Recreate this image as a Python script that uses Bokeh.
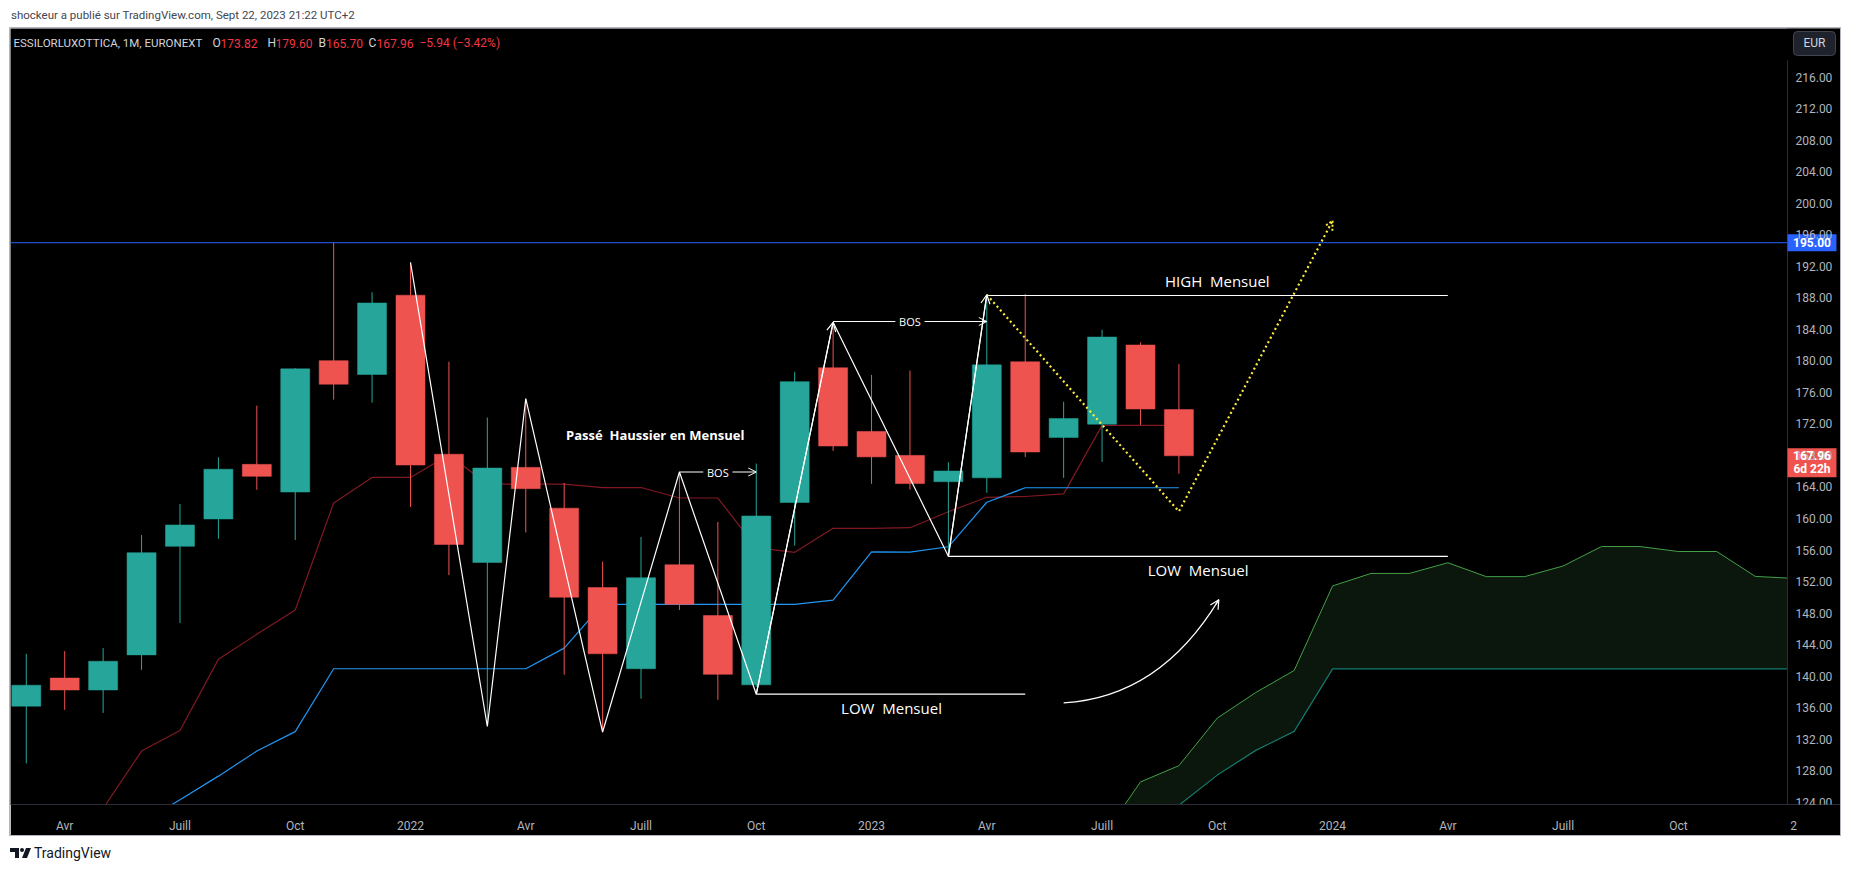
from bokeh.plotting import figure
from bokeh.models import (ColumnDataSource, FixedTicker, Label, Arrow, OpenHead, Div, Range1d)
from bokeh.layouts import column
from bokeh.embed import file_html
from bokeh.resources import INLINE

# ---------------- data ----------------
candle_months = ["2021-03", "2021-04", "2021-05", "2021-06", "2021-07", "2021-08", "2021-09",
                 "2021-10", "2021-11", "2021-12", "2022-01", "2022-02", "2022-03", "2022-04",
                 "2022-05", "2022-06", "2022-07", "2022-08", "2022-09", "2022-10", "2022-11",
                 "2022-12", "2023-01", "2023-02", "2023-03", "2023-04", "2023-05", "2023-06",
                 "2023-07", "2023-08", "2023-09"]
opens = [136.18, 139.75, 138.23, 142.69, 156.47, 159.94, 166.87, 163.36, 180.03, 178.27,
         188.34, 168.16, 154.42, 166.49, 161.31, 151.24, 140.93, 154.14, 147.68, 138.89,
         162.03, 179.13, 171.05, 168.01, 164.67, 165.16, 179.89, 170.28, 171.97, 182.02, 173.82]
highs = [142.83, 143.17, 143.55, 157.89, 161.84, 167.77, 174.33, 179.08, 195.00, 188.72,
         192.50, 179.89, 172.81, 175.23, 164.50, 154.52, 157.66, 165.87, 159.56, 166.97,
         178.61, 184.64, 178.22, 178.78, 167.14, 188.39, 188.49, 174.82, 183.95, 182.35, 179.60]
lows = [128.91, 135.71, 135.33, 140.79, 146.73, 157.42, 163.64, 157.27, 175.09, 174.71,
        161.46, 152.81, 133.80, 158.23, 140.17, 132.86, 137.13, 148.39, 136.99, 138.60,
        156.56, 168.58, 164.40, 163.66, 155.16, 163.27, 167.81, 165.16, 167.18, 171.87, 165.70]
closes = [138.84, 138.23, 141.88, 155.66, 159.18, 166.25, 165.35, 178.99, 177.04, 187.35,
          166.78, 156.70, 166.40, 163.78, 150.01, 142.83, 152.48, 149.10, 140.22, 160.32,
          177.37, 169.20, 167.82, 164.43, 166.03, 179.50, 168.44, 172.69, 183.03, 173.90, 167.96]

# Ichimoku base line (dark red) and conversion line (blue), same months as candles
base_line = [116.0, 119.5, 123.2, 130.48, 133.09, 142.12, 145.30, 148.39, 161.98, 165.21,
             165.21, 168.10, 164.35, 164.35, 164.35, 163.93, 163.93, 162.60, 162.60, 156.30,
             155.71, 158.75, 158.75, 158.83, 160.86, 162.69, 162.79, 163.13, 171.82, 171.82, 171.82]
conv_line = [112.0, 115.0, 118.0, 121.4, 124.3, 127.30, 130.48, 132.95, 140.93, 140.93,
             140.93, 140.93, 140.93, 140.93, 143.55, 149.10, 149.10, 149.10, 149.10, 149.10,
             149.10, 149.63, 155.76, 155.74, 156.41, 162.06, 163.90, 163.90, 163.90, 163.90, 163.90]

# Ichimoku cloud (leading spans)
cloud_months = ["2023-07", "2023-08", "2023-09", "2023-10", "2023-11", "2023-12", "2024-01",
                "2024-02", "2024-03", "2024-04", "2024-05", "2024-06", "2024-07", "2024-08",
                "2024-09", "2024-10", "2024-11", "2024-12", "2025-01"]
span_a = [119.5, 126.56, 128.63, 134.67, 137.91, 140.71, 151.44, 153.03, 153.03, 154.38,
          152.62, 152.62, 153.97, 156.44, 156.44, 155.81, 155.81, 152.65, 152.40]
span_b = [113.5, 118.0, 123.6, 127.43, 130.57, 132.98, 140.91, 140.91, 140.91, 140.91,
          140.91, 140.91, 140.91, 140.91, 140.91, 140.91, 140.91, 140.91, 140.91]

# axes
price_ticks = [124, 128, 132, 136, 140, 144, 148, 152, 156, 160, 164, 168, 172, 176, 180,
               184, 188, 192, 196, 200, 204, 208, 212, 216]
time_tick_months = ["2021-04", "2021-07", "2021-10", "2022-01", "2022-04", "2022-07", "2022-10",
                    "2023-01", "2023-04", "2023-07", "2023-10", "2024-01", "2024-04", "2024-07",
                    "2024-10", "2025-01"]
time_tick_labels = ["Avr", "Juill", "Oct", "2022", "Avr", "Juill", "Oct", "2023", "Avr", "Juill",
                    "Oct", "2024", "Avr", "Juill", "Oct", "2"]

# drawings
resistance = 195.00
zigzag_months = ["2022-01", "2022-03", "2022-04", "2022-06", "2022-08", "2022-10", "2022-12",
                 "2023-03", "2023-04"]
zigzag_prices = [192.5, 133.6, 175.2, 132.9, 165.9, 137.7, 184.9, 155.2, 188.4]
bos1_months, bos1_price = ["2022-08", "2022-10"], 165.9
bos2_months, bos2_price = ["2022-12", "2023-04"], 185.0
high_months, high_price = ["2023-04", "2024-04"], 188.3
low1_months, low1_price = ["2022-10", "2023-05"], 137.7
low2_months, low2_price = ["2023-03", "2024-04"], 155.2
proj_months = ["2023-04", "2023-09", "2024-01"]
proj_prices = [188.4, 160.9, 197.8]
curve_x = [29.0, 31.5, 33.04]     # start, control, end (month index)
curve_y = [136.6, 137.3, 149.7]

legend_title = "ESSILORLUXOTTICA, 1M, EURONEXT"
ohlc_names = ["O", "H", "B", "C"]
change_text = "\u22125.94 (\u22123.42%)"
countdown = "6d 22h"
currency = "EUR"


def midx(s):
    y, m = s.split("-")
    return (int(y) - 2021) * 12 + int(m) - 1


GREEN, RED = "#26A69A", "#EF5350"
FONT = "Roboto"
X0, X1 = 1.589, 49.22          # visible month range (chart + price scale column)
PS = 47.84                     # month position where the price-scale column starts
Y0, Y1 = 123.70, 222.19
PPM = 1830 / (X1 - X0)         # pixels per month
PPU = 780 / (Y1 - Y0)          # pixels per price unit

cx = [midx(s) for s in candle_months]
src = ColumnDataSource(dict(
    x=cx, high=highs, low=lows,
    top=[max(o, c) for o, c in zip(opens, closes)],
    bottom=[min(o, c) for o, c in zip(opens, closes)],
    color=[GREEN if c >= o else RED for o, c in zip(opens, closes)],
))

p = figure(width=1830, height=807, output_backend="svg", toolbar_location=None,
           x_range=Range1d(X0, X1), y_range=Range1d(Y0, Y1),
           y_axis_location=None, min_border_left=0, min_border_right=0,
           min_border_top=0, min_border_bottom=27, margin=(0, 0, 0, 2),
           background_fill_color="black", border_fill_color="black",
           outline_line_color=None, styles={"outline": "1px solid #b2b5be"})
p.grid.visible = False

ax = p.xaxis[0]
ax.axis_line_color = "#2A2E39"
ax.major_tick_line_color = None
ax.minor_tick_line_color = None
ax.major_label_text_color = "#B2B5BE"
ax.major_label_text_font = FONT
ax.major_label_text_font_size = "12px"
ax.major_label_standoff = 8
tt = [midx(s) for s in time_tick_months]
ax.ticker = FixedTicker(ticks=tt)
ax.major_label_overrides = {t: l for t, l in zip(tt, time_tick_labels)}

# cloud
cm = [midx(s) for s in cloud_months]
p.varea(x=cm, y1=span_b, y2=span_a, fill_color="#0b160c")
p.line(cm, span_a, line_color="#43A047", line_width=1)
p.line(cm, span_b, line_color="#147a6c", line_width=1.2)

# ichimoku lines
p.line(cx, base_line, line_color="#801922", line_width=1.2)
p.line(cx, conv_line, line_color="#2196F3", line_width=1.2)

# resistance line
p.ray(x=[PS], y=[resistance], length=0, angle=3.14159265, line_color="#2962FF", line_width=1)

# candles
p.segment(x0="x", y0="high", x1="x", y1="low", line_color="color", line_width=1, source=src)
p.vbar(x="x", width=0.755, top="top", bottom="bottom", fill_color="color",
       line_color="color", line_width=0.5, source=src)

# levels
W = "white"
for mm, pr in ((high_months, high_price), (low1_months, low1_price), (low2_months, low2_price)):
    p.segment(x0=[midx(mm[0])], y0=[pr], x1=[midx(mm[1])], y1=[pr], line_color=W, line_width=1.2)

# zigzag
zx = [midx(s) for s in zigzag_months]
p.line(zx, zigzag_prices, line_color=W, line_width=1.2)
for i in (5, 7):
    p.add_layout(Arrow(end=OpenHead(size=9, line_color=W, line_width=1.2),
                       x_start=zx[i], y_start=zigzag_prices[i],
                       x_end=zx[i + 1], y_end=zigzag_prices[i + 1],
                       line_color=W, line_width=1.2))

# BOS
gap = 0.38
for mm, pr in ((bos1_months, bos1_price), (bos2_months, bos2_price)):
    a, b = midx(mm[0]), midx(mm[1])
    mid = (a + b) / 2
    p.segment(x0=[a], y0=[pr], x1=[mid - gap], y1=[pr], line_color=W, line_width=1)
    p.add_layout(Arrow(end=OpenHead(size=8, line_color=W, line_width=1),
                       x_start=mid + gap, y_start=pr, x_end=b, y_end=pr,
                       line_color=W, line_width=1))
    p.add_layout(Label(x=mid, y=pr, text="BOS", text_color=W, text_font="Open Sans",
                       text_font_size="11px", text_align="center", text_baseline="middle"))

# projection (yellow dotted)
px_ = [midx(s) for s in proj_months]
p.line(px_, proj_prices, line_color="#FFEB3B", line_width=2.2, line_dash="2 3")
p.add_layout(Arrow(end=OpenHead(size=9, line_color="#FFEB3B", line_width=2, line_dash="2 2"),
                   x_start=px_[1], y_start=proj_prices[1], x_end=px_[2], y_end=proj_prices[2],
                   line_alpha=0))

# curved arrow
p.quadratic(x0=[curve_x[0]], y0=[curve_y[0]], x1=[curve_x[2]], y1=[curve_y[2]],
            cx=[curve_x[1]], cy=[curve_y[1]], line_color=W, line_width=1.2)
ex = curve_x[2] - 0.05 * (curve_x[2] - curve_x[1])
ey = curve_y[2] - 0.05 * (curve_y[2] - curve_y[1])
p.add_layout(Arrow(end=OpenHead(size=9, line_color=W, line_width=1.2),
                   x_start=ex, y_start=ey, x_end=curve_x[2], y_end=curve_y[2],
                   line_color=W, line_width=1.2))

# ---- price-scale column (drawn over the plot area) ----
p.quad(left=[PS], right=[X1], bottom=[Y0], top=[Y1], fill_color="black", line_color=None)
p.segment(x0=[PS], y0=[Y0], x1=[PS], y1=[Y1 - 32 / PPU], line_color="#2A2E39", line_width=1)
tag_w = 49 / PPM
p.quad(left=[PS], right=[PS + tag_w], bottom=[resistance - 8.5 / PPU],
       top=[resistance + 8.5 / PPU], fill_color="#2962FF", line_color=None)
p.quad(left=[PS], right=[PS + tag_w], bottom=[closes[-1] - 21.5 / PPU],
       top=[closes[-1] + 7.5 / PPU], fill_color=RED, line_color=None)

for t in price_ticks:
    p.add_layout(Label(x=PS, y=t, x_offset=8, text=f"{t:.2f}", text_color="#B2B5BE",
                       text_font=FONT, text_font_size="12px", text_baseline="middle"))
p.add_layout(Label(x=PS, y=resistance, x_offset=24.5, text=f"{resistance:.2f}", text_color="white",
                   text_font=FONT, text_font_size="12px", text_font_style="bold",
                   text_align="center", text_baseline="middle"))
p.add_layout(Label(x=PS, y=closes[-1], x_offset=24.5, text=f"{closes[-1]:.2f}", text_color="white",
                   text_font=FONT, text_font_size="12px", text_font_style="bold",
                   text_align="center", text_baseline="middle"))
p.add_layout(Label(x=PS, y=closes[-1] - 13.5 / PPU, x_offset=24.5, text=countdown,
                   text_color="white", text_font=FONT, text_font_size="12px",
                   text_font_style="bold", text_align="center", text_baseline="middle"))
LY = 220.29
p.add_layout(Label(x=PS, y=LY, x_offset=27, text=currency, text_color="#D1D4DC", text_font=FONT,
                   text_font_size="12px", text_align="center", text_baseline="middle",
                   background_fill_color="#1E222D", border_line_color="#434651",
                   border_radius=4, padding=(10, 5)))

# annotation texts
NB = "\u00a0 "
p.add_layout(Label(x=18.37, y=170.55, text="Passé" + NB + "Haussier en Mensuel", text_color=W,
                   text_font="Open Sans", text_font_style="bold", text_font_size="13px",
                   text_align="center", text_baseline="middle"))
p.add_layout(Label(x=33.0, y=190.1, text="HIGH" + NB + "Mensuel", text_color=W, text_font="Open Sans",
                   text_font_size="15px", text_align="center", text_baseline="middle"))
p.add_layout(Label(x=32.5, y=153.45, text="LOW" + NB + "Mensuel", text_color=W, text_font="Open Sans",
                   text_font_size="15px", text_align="center", text_baseline="middle"))
p.add_layout(Label(x=24.52, y=135.95, text="LOW" + NB + "Mensuel", text_color=W, text_font="Open Sans",
                   text_font_size="15px", text_align="center", text_baseline="middle"))

# top legend
LFS = "12px"
p.add_layout(Label(x=3, y=LY, x_units="screen", text=legend_title, text_color="#D1D4DC",
                   text_font=FONT, text_font_size="11.5px", text_baseline="middle"))
vals = [opens[-1], highs[-1], lows[-1], closes[-1]]
xs_name = [202, 257, 308, 358]
xs_val = [210, 265, 315.5, 366]
for n, v, xn, xv in zip(ohlc_names, vals, xs_name, xs_val):
    p.add_layout(Label(x=xn, y=LY, x_units="screen", text=n, text_color="#D1D4DC",
                       text_font=FONT, text_font_size=LFS, text_baseline="middle"))
    p.add_layout(Label(x=xv, y=LY, x_units="screen", text=f"{v:.2f}", text_color="#F23645",
                       text_font=FONT, text_font_size=LFS, text_baseline="middle"))
p.add_layout(Label(x=409, y=LY, x_units="screen", text=change_text, text_color="#F23645",
                   text_font=FONT, text_font_size=LFS, text_baseline="middle"))

header = Div(text="shockeur a publié sur TradingView.com, Sept 22, 2023 21:22 UTC+2",
             width=900, height=20, margin=(0, 0, 0, 3),
             styles={"font-family": FONT, "font-size": "11.5px", "color": "#434651",
                     "line-height": "14px"})
logo_svg = ('<svg width="22" height="12" viewBox="0 0 22 12" style="vertical-align:-1px;margin-right:2px">'
            '<path d="M0 1h9v10H5V5H0z" fill="#131722"/>'
            '<circle cx="12" cy="3" r="2" fill="#131722"/>'
            '<path d="M16 1h5l-4 10h-5z" fill="#131722"/></svg>')
logo = Div(text=logo_svg + "TradingView", width=300, height=28, margin=(0, 0, 0, 2),
           styles={"font-family": FONT, "font-size": "14px", "color": "#131722",
                   "padding-top": "11px", "line-height": "14px"})

layout = column(header, p, logo, spacing=0, margin=(8, 0, 0, 8))
open("out.html", "w").write(file_html(layout, INLINE))
